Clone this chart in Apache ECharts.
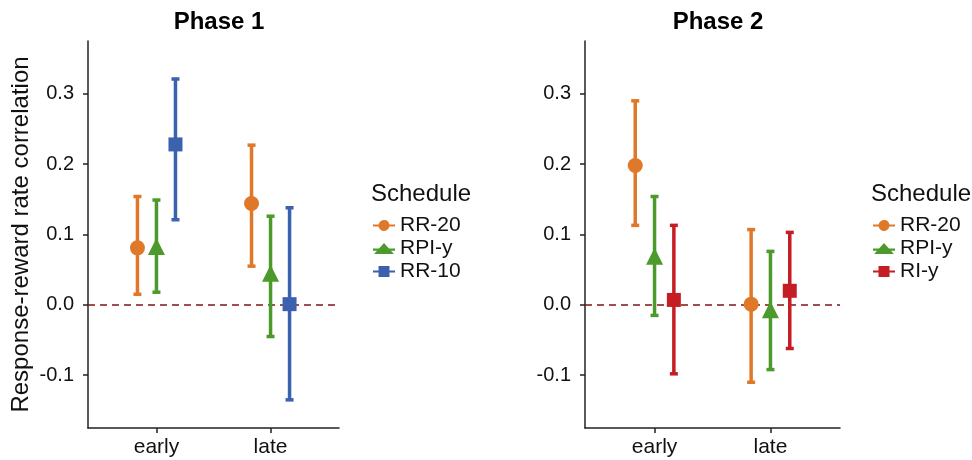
<!DOCTYPE html>
<html>
<head>
<meta charset="utf-8">
<title>Response-reward rate correlation</title>
<script src="https://cdn.jsdelivr.net/npm/echarts@6.0.0/dist/echarts.min.js"></script>
<style>
  html, body { margin: 0; padding: 0; background: #fff; }
  #chart { width: 972px; height: 460px; }
</style>
</head>
<body>
<div id="chart"></div>
<script>
// data
var categories = ['early', 'late'];
var yTicks = [-0.1, 0.0, 0.1, 0.2, 0.3];

var phase1Names = ['RR-20', 'RPI-y', 'RR-10'];
var phase1Mean  = [[0.081, 0.144], [0.083, 0.045], [0.228, 0.001]];
var phase1Lower = [[0.015, 0.055], [0.018, -0.045], [0.121, -0.135]];
var phase1Upper = [[0.154, 0.227], [0.149, 0.126], [0.321, 0.138]];

var phase2Names = ['RR-20', 'RPI-y', 'RI-y'];
var phase2Mean  = [[0.198, 0.001], [0.069, -0.007], [0.007, 0.020]];
var phase2Lower = [[0.113, -0.110], [-0.015, -0.092], [-0.098, -0.062]];
var phase2Upper = [[0.290, 0.107], [0.154, 0.076], [0.113, 0.103]];

var phase1Colors = ['#E0782A', '#4D9A2C', '#3B62AE'];
var phase2Colors = ['#E0782A', '#4D9A2C', '#C41E24'];
var shapes = ['circle', 'triangle', 'rect'];
var shapeSizes = [15, 17, 14];
var dodge = [-1 / 6, 0, 1 / 6];

// legend icons: line through the marker, like ggplot keys
var legendIcons = {
    circle: 'path://M0,4H5.1A5,5 0 0 1 14.9,4H20V6H14.9A5,5 0 0 1 5.1,6H0Z',
    triangle: 'path://M0,5H5.5L10,0L14.5,5H20V7H16.3L19,10H1L3.7,7H0Z',
    rect: 'path://M0,4H5V0H15V4H20V6H15V10H5V6H0Z'
};

var FONT = '"Liberation Sans", Arial, Helvetica, sans-serif';
var AXIS_COLOR = '#222';

function errorBar(params, api) {
    var x = api.value(0);
    var lo = api.coord([x, api.value(1)]);
    var hi = api.coord([x, api.value(2)]);
    var cap = 4;
    var st = { stroke: api.visual('color'), lineWidth: 3.5, fill: null };
    return {
        type: 'group',
        children: [
            { type: 'line', shape: { x1: lo[0], y1: lo[1], x2: hi[0], y2: hi[1] }, style: st },
            { type: 'line', shape: { x1: lo[0] - cap, y1: lo[1], x2: lo[0] + cap, y2: lo[1] }, style: st },
            { type: 'line', shape: { x1: hi[0] - cap, y1: hi[1], x2: hi[0] + cap, y2: hi[1] }, style: st }
        ]
    };
}

function makeX(idx) {
    return {
        gridIndex: idx, type: 'value', min: 0.4, max: 2.6,
        splitLine: { show: false },
        axisLine: { show: true, onZero: false, lineStyle: { color: AXIS_COLOR, width: 1.5 } },
        axisTick: { show: true, customValues: [1, 2], length: 5, lineStyle: { color: AXIS_COLOR, width: 1.5 } },
        axisLabel: {
            customValues: [1, 2], margin: 9, color: '#111', fontSize: 21, fontFamily: FONT,
            formatter: function (v) { return categories[Math.round(v) - 1]; }
        }
    };
}

function makeY(idx, name) {
    return {
        gridIndex: idx, type: 'value', min: -0.175, max: 0.375,
        splitLine: { show: false },
        name: name, nameLocation: 'middle', nameGap: 55, nameRotate: 90,
        nameTextStyle: { fontSize: 24, color: '#111', fontFamily: FONT },
        axisLine: { show: true, onZero: false, lineStyle: { color: AXIS_COLOR, width: 1.5 } },
        axisTick: { show: true, customValues: yTicks, length: 5, lineStyle: { color: AXIS_COLOR, width: 1.5 } },
        axisLabel: {
            customValues: yTicks, margin: 14, color: '#111', fontSize: 20, fontFamily: FONT,
            formatter: function (v) { return v.toFixed(1); }
        }
    };
}

var series = [];
function addPhase(idx, names, means, lowers, uppers, colors) {
    names.forEach(function (name, s) {
        var bars = [], pts = [];
        categories.forEach(function (c, i) {
            var x = i + 1 + dodge[s];
            bars.push([x, lowers[s][i], uppers[s][i]]);
            pts.push([x, means[s][i]]);
        });
        series.push({
            name: name + ' ci', type: 'custom', xAxisIndex: idx, yAxisIndex: idx,
            itemStyle: { color: colors[s] }, renderItem: errorBar, data: bars, z: 2
        });
        var sc = {
            name: name, type: 'scatter', xAxisIndex: idx, yAxisIndex: idx,
            symbol: shapes[s], symbolSize: shapeSizes[s],
            itemStyle: { color: colors[s], opacity: 1 }, data: pts, z: 3
        };
        if (s === 0) {
            sc.markLine = {
                silent: true, symbol: 'none', label: { show: false }, z: 1,
                lineStyle: { color: '#7E1414', type: [7, 5], width: 1.6 },
                data: [{ yAxis: 0 }]
            };
        }
        series.push(sc);
    });
}
addPhase(0, phase1Names, phase1Mean, phase1Lower, phase1Upper, phase1Colors);
addPhase(1, phase2Names, phase2Mean, phase2Lower, phase2Upper, phase2Colors);

function makeLegend(names, left) {
    return {
        orient: 'vertical', left: left, top: 210, itemWidth: 22, itemHeight: 12, itemGap: 2,
        selectedMode: false,
        textStyle: { fontSize: 21, color: '#111', fontFamily: FONT, lineHeight: 21 },
        data: names.map(function (n, s) { return { name: n, icon: legendIcons[shapes[s]] }; })
    };
}

var chart = echarts.init(document.getElementById('chart'));
chart.setOption({
    animation: false,
    backgroundColor: '#fff',
    title: [
        { text: 'Phase 1', left: 214, top: 5, textAlign: 'center',
          textStyle: { fontSize: 24, fontWeight: 'bold', color: '#000', fontFamily: FONT } },
        { text: 'Phase 2', left: 713, top: 5, textAlign: 'center',
          textStyle: { fontSize: 24, fontWeight: 'bold', color: '#000', fontFamily: FONT } },
        { text: 'Schedule', left: 366, top: 177,
          textStyle: { fontSize: 24, fontWeight: 'normal', color: '#111', fontFamily: FONT } },
        { text: 'Schedule', left: 866, top: 177,
          textStyle: { fontSize: 24, fontWeight: 'normal', color: '#111', fontFamily: FONT } }
    ],
    legend: [makeLegend(phase1Names, 368), makeLegend(phase2Names, 868)],
    grid: [
        { left: 88, top: 41, width: 251, height: 387 },
        { left: 585, top: 41, width: 255, height: 387 }
    ],
    xAxis: [makeX(0), makeX(1)],
    yAxis: [makeY(0, 'Response-reward rate correlation'), makeY(1, '')],
    series: series
});
</script>
</body>
</html>
